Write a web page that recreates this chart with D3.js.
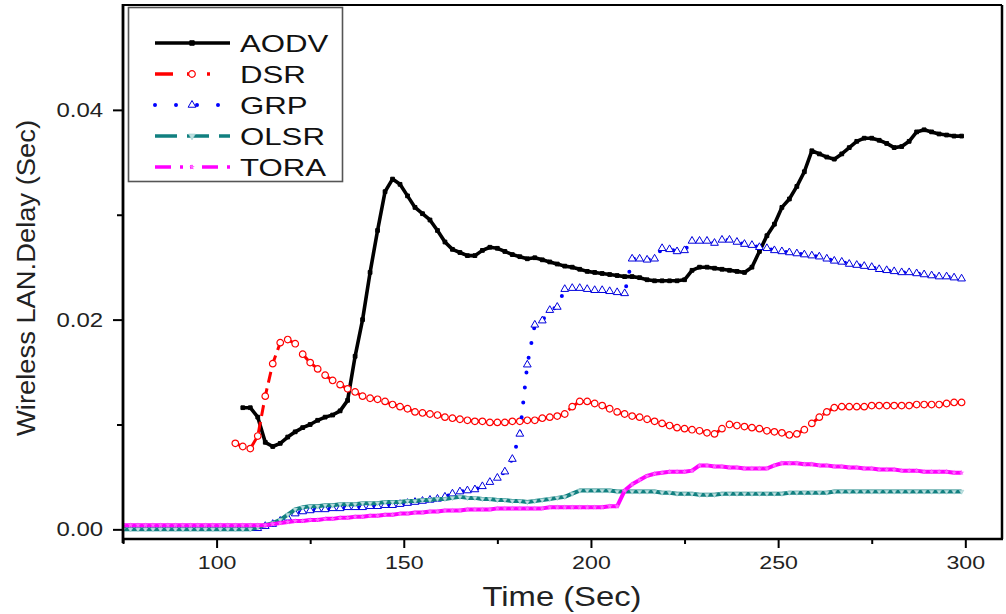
<!DOCTYPE html>
<html><head><meta charset="utf-8">
<script src="https://cdn.jsdelivr.net/npm/d3@7/dist/d3.min.js"></script>
<style>body{margin:0;background:#fff}svg{display:block}</style>
</head><body><svg id="c" width="1006" height="614"></svg>
<script>
// Simulation time (Sec)
const time = [75,77,79,81,83,85,87,89,91,93,
 95,97,99,101,103,105,107,109,111,113,
 115,117,119,121,123,125,127,129,131,133,
 135,137,139,141,143,145,147,149,151,153,
 155,157,159,161,163,165,167,169,171,173,
 175,177,179,181,183,185,187,189,191,193,
 195,197,199,201,203,205,207,209,211,213,
 215,217,219,221,223,225,227,229,231,233,
 235,237,239,241,243,245,247,249,251,253,
 255,257,259,261,263,265,267,269,271,273,
 275,277,279,281,283,285,287,289,291,293,
 295,297,299];

const aodv = [null,null,null,null,null,null,null,null,null,null,
 null,null,null,null,null,null,
 .0116,.0116,.0107,.0083,.0079,.0082,.0088,.0093,.0097,.0100,
 .0104,.0107,.0109,.0113,.0123,.0165,.0200,.0245,.0285,.0322,
 .0334,.0329,.0318,.0307,.0301,.0295,.0285,.0274,.0267,.0264,
 .0261,.0261,.0266,.0269,.0268,.0265,.0262,.0260,.0258,.0259,
 .0257,.0255,.0253,.0251,.0250,.0248,.0246,.0245,.0244,.0243,
 .0242,.0241,.0241,.0240,.0238,.0237,.0237,.0237,.0237,.0238,
 .0247,.0250,.0250,.0249,.0248,.0247,.0246,.0245,.0250,.0265,
 .0280,.0291,.0307,.0315,.0327,.0341,.0361,.0358,.0355,.0353,
 .0358,.0364,.0370,.0373,.0373,.0371,.0368,.0364,.0365,.0370,
 .0379,.0381,.0379,.0377,.0376,.0375,.0375];

const dsr = [null,null,null,null,null,null,null,null,null,null,
 null,null,null,null,null,
 .0082,.0079,.0077,.0089,.0127,.0158,.0178,.0181,.0177,.0167,
 .0159,.0153,.0147,.0142,.0138,.0134,.0131,.0127,.0125,.0124,
 .0122,.0119,.0117,.0115,.0112,.0111,.0110,.0109,.0107,.0106,
 .0105,.0104,.0103,.0103,.0102,.0102,.0102,.0103,.0103,.0104,
 .0104,.0106,.0107,.0108,.0110,.0117,.0122,.0122,.0120,.0118,
 .0115,.0112,.0110,.0108,.0107,.0105,.0103,.0101,.0099,.0097,
 .0096,.0095,.0094,.0092,.0091,.0096,.0100,.0099,.0098,.0097,
 .0096,.0094,.0093,.0092,.0090,.0091,.0095,.0101,.0107,.0112,
 .0116,.0117,.0117,.0117,.0117,.0118,.0118,.0118,.0118,.0118,
 .0118,.0119,.0119,.0119,.0119,.0120,.0121,.0121];

const grp = [.0001,.0001,.0001,.0001,.0001,.0001,.0001,.0001,.0001,.0001,
 .0001,.0001,.0001,.0001,.0001,.0001,.0001,.0001,.0001,.0003,
 .0005,.0008,.0011,.0015,.0017,.0018,.0019,.0019,.0020,.0020,
 .0021,.0021,.0021,.0022,.0022,.0023,.0023,.0024,.0025,.0026,
 .0027,.0028,.0029,.0031,.0034,.0036,.0037,.0038,.0041,.0045,
 .0049,.0055,.0067,.0091,.0157,.0195,.0199,.0209,.0212,.0229,
 .0230,.0230,.0229,.0228,.0228,.0227,.0226,.0225,.0258,.0258,
 .0257,.0258,.0268,.0267,.0265,.0266,.0275,.0275,.0275,.0273,
 .0276,.0276,.0274,.0272,.0271,.0269,.0268,.0266,.0265,.0264,
 .0263,.0262,.0261,.0260,.0258,.0256,.0255,.0253,.0252,.0251,
 .0250,.0248,.0247,.0246,.0245,.0245,.0244,.0243,.0242,.0241,
 .0241,.0240,.0239];

const olsr = [0,0,0,0,0,0,0,0,0,0,
 0,0,0,0,0,0,0,0,.0002,.0004,
 .0006,.0009,.0014,.0019,.0021,.0022,.0022,.0023,.0023,.0024,
 .0024,.0024,.0025,.0025,.0025,.0026,.0026,.0026,.0027,.0027,
 .0028,.0028,.0029,.0029,.0030,.0031,.0030,.0030,.0029,.0029,
 .0028,.0028,.0027,.0027,.0026,.0027,.0028,.0029,.0030,.0031,
 .0034,.0037,.0037,.0037,.0037,.0037,.0036,.0036,.0036,.0036,
 .0036,.0036,.0035,.0035,.0034,.0034,.0034,.0033,.0033,.0033,
 .0034,.0034,.0034,.0034,.0034,.0034,.0034,.0034,.0034,.0035,
 .0035,.0035,.0035,.0035,.0035,.0036,.0036,.0036,.0036,.0036,
 .0036,.0036,.0036,.0036,.0036,.0036,.0036,.0036,.0036,.0036,
 .0036,.0036,.0036];

const tora = [.0004,.0004,.0004,.0004,.0004,.0004,.0004,.0004,.0004,.0004,
 .0004,.0004,.0004,.0004,.0004,.0004,.0004,.0004,.0004,.0004,
 .0005,.0006,.0007,.0008,.0008,.0009,.0009,.0010,.0010,.0011,
 .0011,.0012,.0012,.0013,.0013,.0014,.0014,.0015,.0015,.0016,
 .0016,.0017,.0017,.0018,.0018,.0018,.0019,.0019,.0019,.0019,
 .0020,.0020,.0020,.0020,.0020,.0020,.0020,.0021,.0021,.0021,
 .0021,.0021,.0021,.0021,.0021,.0022,.0022,.0037,.0043,.0047,
 .0051,.0053,.0054,.0055,.0055,.0055,.0056,.0061,.0061,.0060,
 .0060,.0059,.0059,.0058,.0058,.0058,.0058,.0061,.0063,.0063,
 .0063,.0062,.0062,.0061,.0061,.0060,.0060,.0059,.0059,.0058,
 .0058,.0057,.0057,.0057,.0056,.0056,.0056,.0055,.0055,.0055,
 .0055,.0054,.0054];

const seriesNames = ["AODV","DSR","GRP","OLSR","TORA"];
const xTicks = [100,150,200,250,300];
const xMinorTicks = [75,125,175,225,275];
const yTicks = [0,0.02,0.04];
const yTickLabels = ["0.00","0.02","0.04"];
const yMinorTicks = [0.01,0.03];
const xTitle = "Time (Sec)";
const yTitle = "Wireless LAN.Delay (Sec)";

const FONT = "'Liberation Sans', Arial, Helvetica, sans-serif";
const svg = d3.select("#c");
const L = 123, R = 1002, T = 5, B = 539;
const x = d3.scaleLinear().domain([75, 309.8]).range([L, R]);
const y = d3.scaleLinear().domain([-0.00092, 0.05]).range([B, T]);

svg.append("defs").append("clipPath").attr("id","clip")
  .append("rect").attr("x",L).attr("y",T).attr("width",R-L).attr("height",B-T);

const styles = {
  AODV: {vals: aodv, color:"#000000", width:3.6, dash:null, sym:d3.symbolSquare, size:14, fill:"#000", stroke:"#000", sw:1},
  DSR:  {vals: dsr,  color:"#ff0000", width:3, dash:"11,6", sym:d3.symbolCircle, size:34, fill:"#fff", stroke:"#ff0000", sw:1.2},
  GRP:  {vals: grp,  color:"#0000ff", width:4, dash:"0,15", cap:"round", sym:d3.symbolTriangle, size:26, fill:"#fff", stroke:"#0000dd", sw:1},
  OLSR: {vals: olsr, color:"#118080", width:4, dash:null, sym:d3.symbolTriangle, size:9, fill:"#bfe0e0", stroke:"#9cc", sw:0.6, rot:180},
  TORA: {vals: tora, color:"#ff00ff", width:4, dash:null, sym:d3.symbolStar, size:10, fill:"#ff66ff", stroke:"none", sw:0}
};

// axes
function styleAxis(g){
  g.select(".domain").remove();
  g.selectAll(".tick line").attr("stroke","#000").attr("stroke-width",2);
}
const xAxis = svg.append("g").attr("transform",`translate(0,${B})`)
  .call(d3.axisBottom(x).tickValues(xTicks).tickSize(9).tickFormat(d3.format("d")));
styleAxis(xAxis);
xAxis.selectAll("text").attr("y",17).attr("dy","0.71em")
  .attr("font-family",FONT).attr("font-size",19).attr("fill","#222")
  .attr("transform","scale(1.22,1)");
const xMin = svg.append("g").attr("transform",`translate(0,${B})`)
  .call(d3.axisBottom(x).tickValues(xMinorTicks).tickSize(5).tickFormat(""));
styleAxis(xMin);

const yAxis = svg.append("g").attr("transform",`translate(${L},0)`)
  .call(d3.axisLeft(y).tickValues(yTicks).tickSize(10).tickFormat((d,i)=>yTickLabels[i]));
styleAxis(yAxis);
yAxis.selectAll("text").attr("x",-16.5).attr("dy","0.32em")
  .attr("font-family",FONT).attr("font-size",20).attr("fill","#222")
  .attr("transform","scale(1.2,1)");
const yMin = svg.append("g").attr("transform",`translate(${L},0)`)
  .call(d3.axisLeft(y).tickValues(yMinorTicks).tickSize(6).tickFormat(""));
styleAxis(yMin);

// series
const plot = svg.append("g").attr("clip-path","url(#clip)");
seriesNames.forEach(name=>{
  const s = styles[name];
  const idx = d3.range(time.length).filter(i=>s.vals[i]!=null);
  const line = d3.line().x(i=>x(time[i])).y(i=>y(s.vals[i]));
  plot.append("path").attr("d",line(idx)).attr("fill","none")
    .attr("stroke",s.color).attr("stroke-width",s.width)
    .attr("stroke-dasharray",s.dash).attr("stroke-linecap",s.cap||"butt")
    .attr("stroke-linejoin","round");
  plot.append("g").selectAll("path").data(idx).join("path")
    .attr("d",d3.symbol().type(s.sym).size(s.size))
    .attr("transform",i=>`translate(${x(time[i])},${y(s.vals[i])})${s.rot?` rotate(${s.rot})`:""}`)
    .attr("fill",s.fill).attr("stroke",s.stroke).attr("stroke-width",s.sw);
});

// frame
svg.append("line").attr("x1",L).attr("x2",R).attr("y1",T).attr("y2",T).attr("stroke","#000").attr("stroke-width",2);
svg.append("line").attr("x1",R).attr("x2",R).attr("y1",T).attr("y2",B).attr("stroke","#000").attr("stroke-width",2.5);
svg.append("line").attr("x1",L).attr("x2",R+1).attr("y1",B).attr("y2",B).attr("stroke","#000").attr("stroke-width",2.6);
svg.append("line").attr("x1",L).attr("x2",L).attr("y1",T-1).attr("y2",B+4).attr("stroke","#000").attr("stroke-width",2.8);

// titles
svg.append("text").attr("x",562).attr("y",606).attr("text-anchor","middle")
  .attr("font-family",FONT).attr("font-size",28).attr("fill","#222")
  .attr("textLength",159).attr("lengthAdjust","spacingAndGlyphs").text(xTitle);
svg.append("text").attr("transform","translate(35,278) rotate(-90)").attr("text-anchor","middle")
  .attr("font-family",FONT).attr("font-size",26).attr("fill","#222")
  .attr("textLength",316).attr("lengthAdjust","spacingAndGlyphs").text(yTitle);

// legend
const lg = svg.append("g");
lg.append("rect").attr("x",128.5).attr("y",7.5).attr("width",214).attr("height",174)
  .attr("fill","#fff").attr("stroke","#555").attr("stroke-width",1.6);
const legendDash = {AODV:null, DSR:"18,14,8,12,3,20", GRP:"0,21", OLSR:"22,10", TORA:"16,9,3,7,3,9"};
seriesNames.forEach((name,k)=>{
  const s = styles[name];
  const cy = 43 + k*31;
  lg.append("line").attr("x1",155).attr("x2",230).attr("y1",cy).attr("y2",cy)
    .attr("stroke",s.color).attr("stroke-width",name==="GRP"?4:3.6)
    .attr("stroke-dasharray",legendDash[name]).attr("stroke-linecap",name==="GRP"?"round":"butt");
  lg.append("path").attr("d",d3.symbol().type(s.sym).size(name==="AODV"?20:(name==="OLSR"?20:s.size)))
    .attr("transform",`translate(192,${cy})${s.rot?" rotate(180)":""}`)
    .attr("fill",s.fill).attr("stroke",s.stroke).attr("stroke-width",s.sw);
  lg.append("text").attr("transform",`translate(240,${cy+8.6}) scale(1.3,1)`)
    .attr("font-family",FONT).attr("font-size",24).attr("fill","#111").text(name);
});
</script></body></html>
